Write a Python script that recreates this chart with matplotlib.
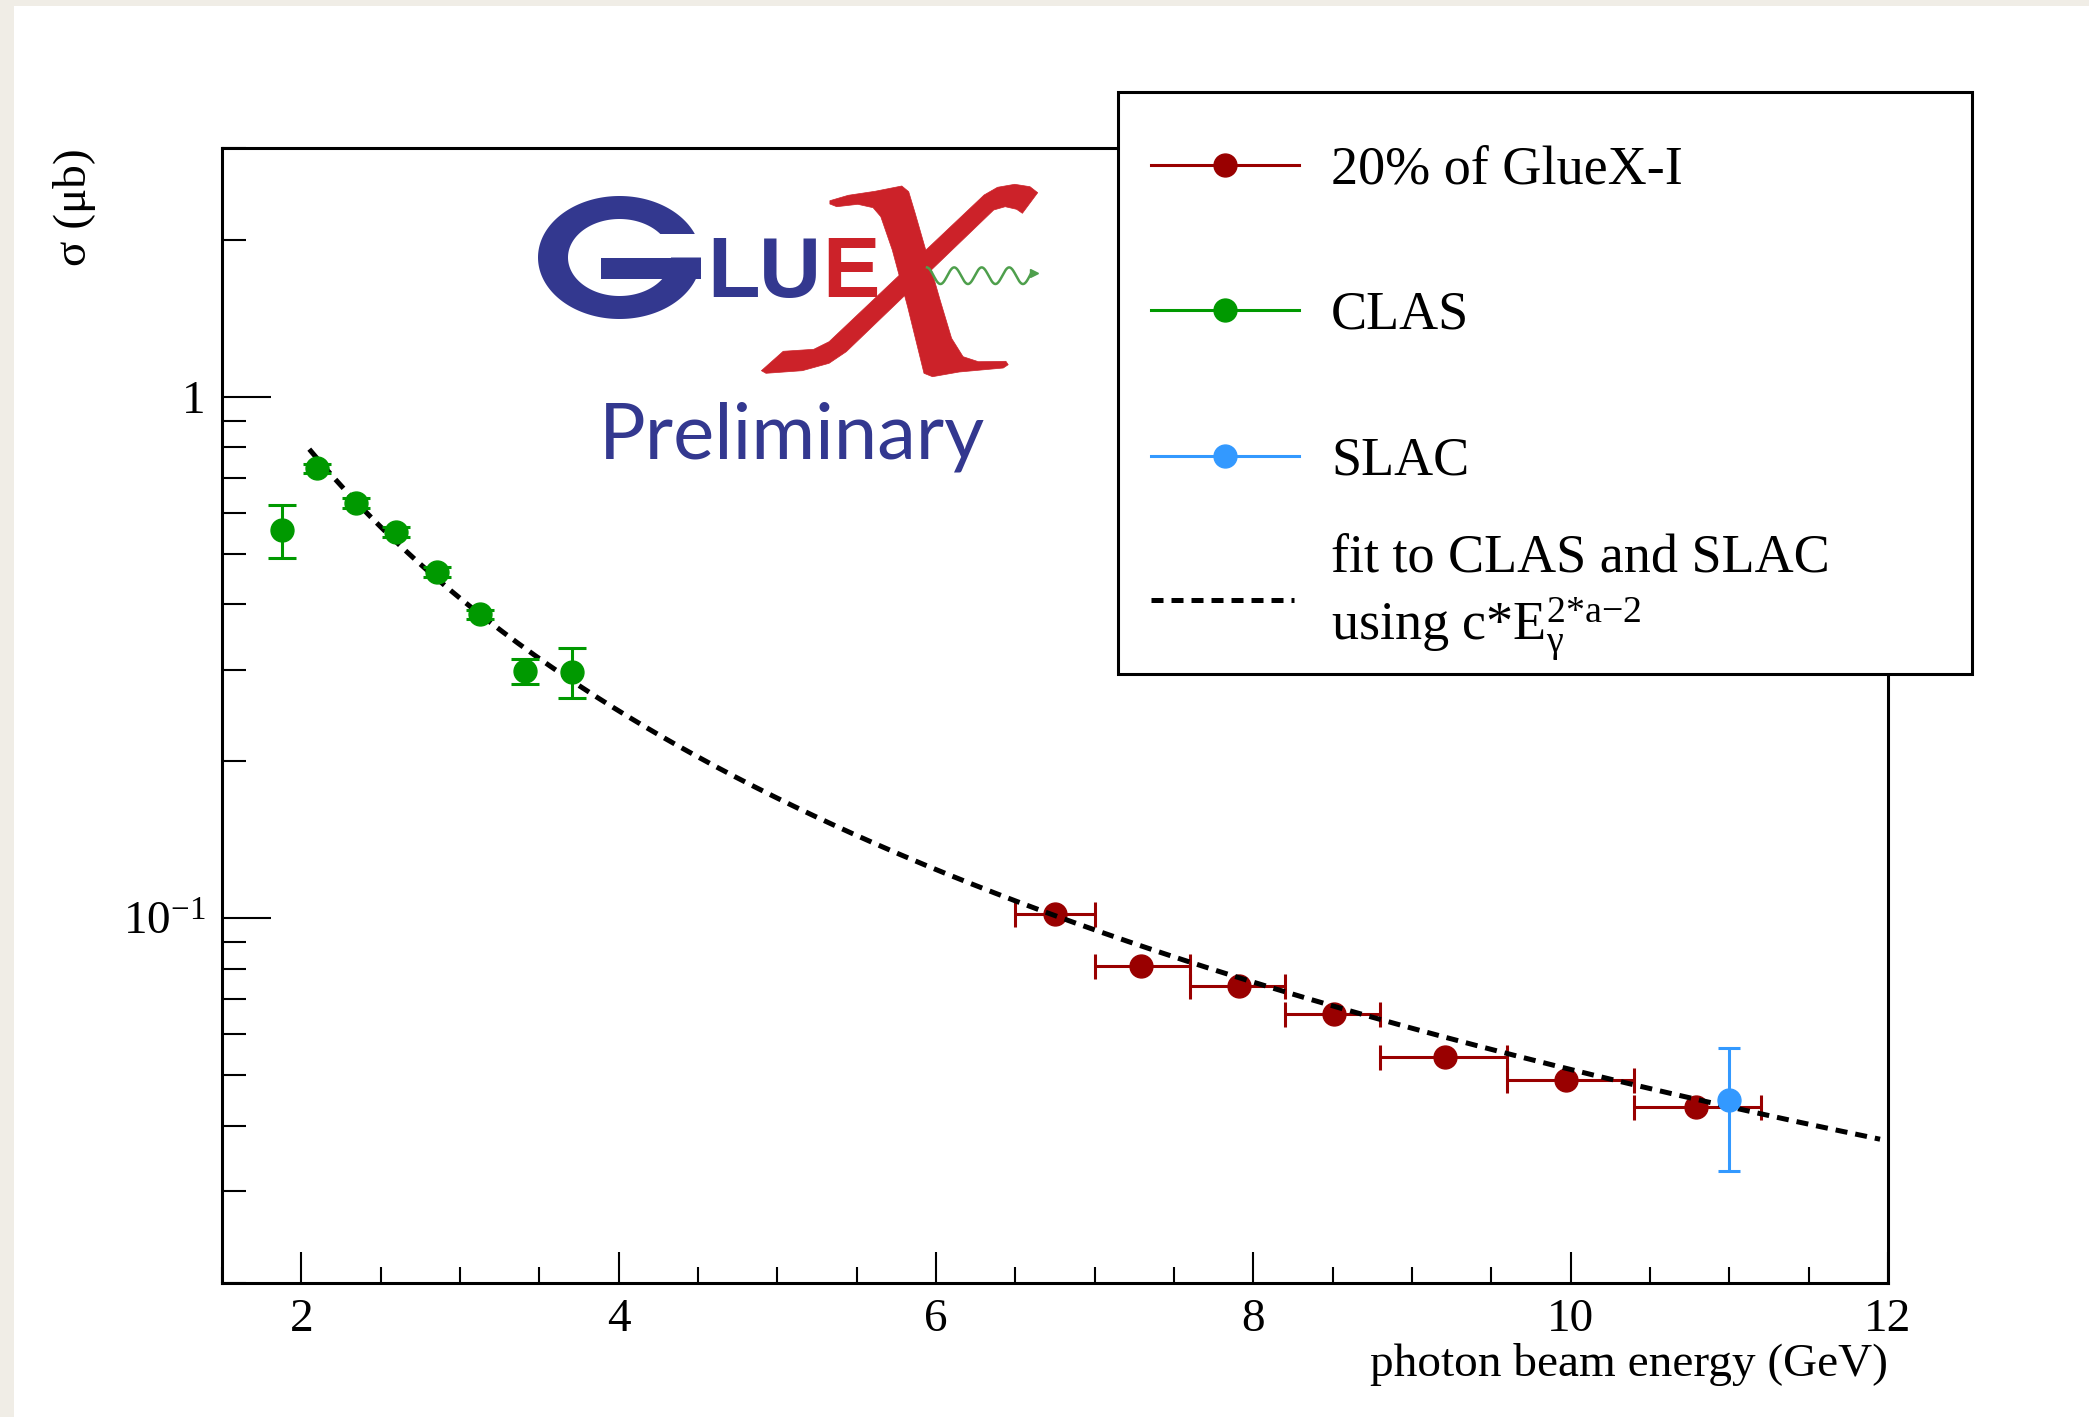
import numpy as np
import matplotlib
matplotlib.use("Agg")
import matplotlib.pyplot as plt
from matplotlib.patches import Rectangle, Polygon
from matplotlib.ticker import FixedLocator, FixedFormatter, MultipleLocator, LogLocator, NullFormatter
from matplotlib import font_manager

# ---------------- data ----------------
# CLAS measurements
clas_e = [1.876, 2.100, 2.342, 2.595, 2.853, 3.127, 3.410, 3.705]
clas_sigma = [0.556, 0.730, 0.626, 0.550, 0.461, 0.383, 0.298, 0.297]
clas_err_lo = [0.064, 0.015, 0.013, 0.012, 0.010, 0.008, 0.017, 0.032]
clas_err_hi = [0.065, 0.015, 0.013, 0.012, 0.010, 0.008, 0.017, 0.033]

# GlueX (20% of phase I) with energy-bin edges
gluex_e = [6.75, 7.29, 7.91, 8.51, 9.21, 9.97, 10.79]
gluex_sigma = [0.1018, 0.0810, 0.0741, 0.0657, 0.0542, 0.0489, 0.0435]
gluex_bin_lo = [6.5, 7.0, 7.6, 8.2, 8.8, 9.6, 10.4]
gluex_bin_hi = [7.0, 7.6, 8.2, 8.8, 9.6, 10.4, 11.2]

# SLAC measurement
slac_e = [11.0]
slac_sigma = [0.0448]
slac_err_lo = [0.0120]
slac_err_hi = [0.0117]

# power-law fit  sigma = c * E^(2a-2)
fit_c = 2.744
fit_a = 0.136
fit_range = [2.05, 11.95]

x_major_ticks = [2, 4, 6, 8, 10, 12]
x_tick_labels = ["2", "4", "6", "8", "10", "12"]
y_major_ticks = [0.1, 1.0]
y_tick_labels = [r"$10^{-1}$", "1"]

legend_labels = ["20% of GlueX-I", "CLAS", "SLAC",
                 "fit to CLAS and SLAC", r"using c*E$_{\mathrm{γ}}^{\mathrm{2{*}a{-}2}}$"]

# ---------------- style ----------------
RED = "#990000"
GREEN = "#009900"
BLUE = "#3399ff"
LOGO_BLUE = "#33388f"
LOGO_RED = "#cc2229"
LOGO_GREEN = "#4e9f4c"

plt.rcParams["font.family"] = ["Liberation Serif", "DejaVu Serif"]
plt.rcParams["mathtext.fontset"] = "custom"
plt.rcParams["mathtext.rm"] = "Liberation Serif"
plt.rcParams["mathtext.it"] = "Liberation Serif:italic"
plt.rcParams["mathtext.bf"] = "Liberation Serif:bold"

W, H, DPI = 2089, 1417, 100
fig = plt.figure(figsize=(W / DPI, H / DPI), dpi=DPI)
fig.patch.set_facecolor("#f0ede6")
fig.add_artist(Rectangle((14 / W, 0), 1 - 14 / W, 1 - 6 / H, transform=fig.transFigure,
                         facecolor="white", edgecolor="none", zorder=0))


def fx(px):
    return px / W


def fy(py):
    return 1 - py / H


# ---------------- main axes ----------------
ax = fig.add_axes([fx(222), fy(1283), fx(1888) - fx(222), fy(148) - fy(1283)], zorder=1)
ax.set_yscale("log")
ax.set_xlim(1.5, 12)
ax.set_ylim(0.02, 3.0)

gx_lo = [e - lo for e, lo in zip(gluex_e, gluex_bin_lo)]
gx_hi = [hi - e for e, hi in zip(gluex_e, gluex_bin_hi)]

ax.errorbar(gluex_e, gluex_sigma, xerr=[gx_lo, gx_hi], fmt="o", color=RED, ms=16.5,
            elinewidth=2.2, capsize=9, capthick=2.2, zorder=3)

fit_e = np.linspace(fit_range[0], fit_range[1], 400)
ax.plot(fit_e, fit_c * fit_e ** (2 * fit_a - 2), color="black", lw=3.6,
        ls=(0, (2.4, 1.6)), zorder=4)

ax.errorbar(clas_e, clas_sigma, yerr=[clas_err_lo, clas_err_hi], fmt="o", color=GREEN,
            ms=16.5, elinewidth=2.2, capsize=10, capthick=2.2, zorder=5)
ax.errorbar(slac_e, slac_sigma, yerr=[slac_err_lo, slac_err_hi], fmt="o", color=BLUE,
            ms=16.5, elinewidth=2.2, capsize=8, capthick=2.2, zorder=6)

ax.xaxis.set_major_locator(FixedLocator(x_major_ticks))
ax.xaxis.set_major_formatter(FixedFormatter(x_tick_labels))
ax.xaxis.set_minor_locator(MultipleLocator(0.5))
ax.yaxis.set_major_locator(FixedLocator(y_major_ticks))
ax.yaxis.set_major_formatter(FixedFormatter(y_tick_labels))
ax.yaxis.set_minor_locator(LogLocator(base=10, subs=np.arange(2, 10)))
ax.yaxis.set_minor_formatter(NullFormatter())

ax.tick_params(axis="x", which="major", direction="in", length=22, width=1.5, labelsize=34, pad=11)
ax.tick_params(axis="x", which="minor", direction="in", length=11.5, width=1.5)
ax.tick_params(axis="y", which="major", direction="in", length=35, width=1.5, labelsize=34, pad=12)
ax.tick_params(axis="y", which="minor", direction="in", length=17, width=1.5)
for s in ax.spines.values():
    s.set_linewidth(2.2)

ax.set_xlabel("photon beam energy (GeV)", fontsize=34, ha="right", va="center")
ax.xaxis.set_label_coords(1.0, -(1364 - 1283) / (1283 - 148))
ax.set_ylabel("σ (μb)", fontsize=34, ha="right", va="center")
ax.yaxis.set_label_coords((74 - 222) / (1888 - 222), 1.0)

# ---------------- overlay in pixel coordinates: logo and legend ----------------
lg = fig.add_axes([0, 0, 1, 1], zorder=5)
lg.set_xlim(0, W)
lg.set_ylim(H, 0)
lg.axis("off")

# legend box
lg.add_patch(Rectangle((1118, 92), 1972 - 1118, 674 - 92, facecolor="white",
                       edgecolor="black", lw=2.2, zorder=1))
key_x0, key_x1, key_xm, text_x = 1151, 1299, 1225, 1331
row_y = [165, 310, 456, 600]
for y, col, lab in zip(row_y[:3], [RED, GREEN, BLUE], legend_labels[:3]):
    lg.plot([key_x0, key_x1], [y, y], color=col, lw=2.2, zorder=2)
    lg.plot([key_xm], [y], "o", color=col, ms=16.5, zorder=3)
    lg.text(text_x, y + 18.5, lab, fontsize=39, va="baseline", ha="left", zorder=3)
lg.plot([key_x0, 1294], [row_y[3], row_y[3]], color="black", lw=3.6, ls=(0, (2.4, 1.6)), zorder=2)
lg.text(text_x, row_y[3] - 29, legend_labels[3], fontsize=39, va="baseline", ha="left", zorder=3)
lg.text(text_x, row_y[3] + 39, legend_labels[4], fontsize=39, va="baseline", ha="left", zorder=3)

# logo: ring of the G
gcx, gcy = 619.5, 257.5
goa, gob = 81.5, 61.5
gia, gib = 51.5, 38.5
g_cut = 23.5
to = np.linspace(np.arcsin(g_cut / gob), 2 * np.pi, 240)
ti = np.linspace(2 * np.pi, np.arcsin(g_cut / gib), 240)
g_xs = np.concatenate([gcx + goa * np.cos(to), gcx + gia * np.cos(ti)])
g_ys = np.concatenate([gcy - gob * np.sin(to), gcy - gib * np.sin(ti)])
lg.add_patch(Polygon(np.column_stack([g_xs, g_ys]), closed=True, facecolor=LOGO_BLUE,
                     edgecolor="none", zorder=4))
lg.add_patch(Rectangle((601, gcy), 701 - 601, 21, facecolor=LOGO_BLUE, edgecolor="none", zorder=4))

font_names = {f.name for f in font_manager.fontManager.ttflist}
logo_font = "Liberation Sans Narrow" if "Liberation Sans Narrow" in font_names else "Liberation Sans"
for ch, cx, col in [("L", 733.5, LOGO_BLUE), ("U", 789.5, LOGO_BLUE), ("E", 851, LOGO_RED)]:
    lg.text(cx, 297, ch, fontsize=62, fontweight="bold", family=logo_font, color=col,
            ha="center", va="baseline", zorder=4)

# logo: the red X (thick and thin calligraphic strokes)
x_thick = [(829.9, 200.7), (848.3, 195.3), (875.0, 191.3), (901.8, 186.0), (908.7, 191.7),
           (915.2, 213.3), (926.7, 253.3), (940.1, 300.0), (951.6, 338.3), (963.1, 356.7),
           (978.4, 361.7), (1005.9, 361.3), (1008.2, 364.7), (1003.3, 368.0), (959.2, 372.0),
           (932.5, 376.7), (924.0, 373.3), (907.6, 306.7), (892.3, 250.0), (880.8, 216.7),
           (873.1, 207.7), (857.8, 204.3), (836.8, 206.7), (829.9, 204.0)]
x_thin = [(1037.7, 192.7), (1030.0, 186.7), (1014.7, 184.3), (997.5, 187.3), (984.1, 195.0),
          (829.1, 341.7), (813.8, 349.3), (783.2, 351.3), (761.4, 370.7), (766.0, 373.3),
          (802.3, 370.7), (829.1, 363.3), (846.3, 351.7), (993.7, 210.0), (1005.2, 206.7),
          (1016.6, 209.3), (1022.4, 213.3)]
for pts in (x_thick, x_thin):
    lg.add_patch(Polygon(pts, closed=True, facecolor=LOGO_RED, edgecolor=LOGO_RED, lw=0.5,
                         joinstyle="round", zorder=5))

# logo: photon wave with arrow
wx = np.linspace(927, 1031, 300)
wy = 275.7 - 8.3 * np.cos(2 * np.pi * (wx - 926.7) / 27.5)
lg.plot(wx, wy, color=LOGO_GREEN, lw=1.8, zorder=6)
lg.plot([1034], [wy[-1]], marker=">", color=LOGO_GREEN, ms=6, zorder=6)

lg.text(792, 458, "Preliminary", fontsize=56, family=["Lato", "DejaVu Sans"], color=LOGO_BLUE,
        ha="center", va="baseline", zorder=4)

fig.savefig("out.png", dpi=DPI, facecolor=fig.get_facecolor())
